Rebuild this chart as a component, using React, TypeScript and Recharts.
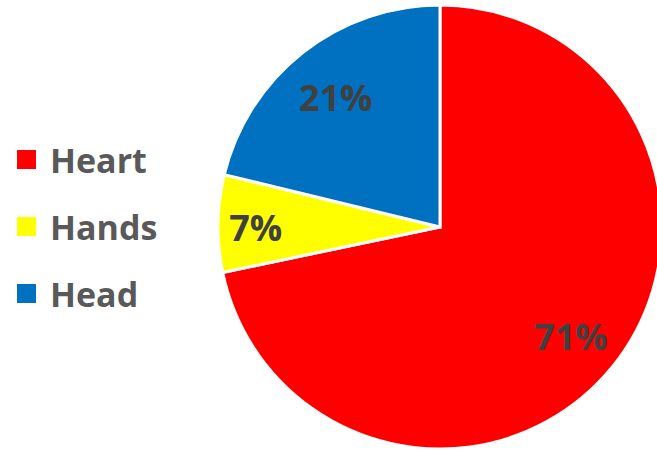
import { Cell, Legend, Pie, PieChart } from "recharts";

const categories = ["Heart", "Hands", "Head"];
const shares = [71, 7, 21];
const colors = ["#FF0000", "#FFFF00", "#0070C0"];

const data = categories.map((name, i) => ({ name, value: shares[i] }));

const RADIAN = Math.PI / 180;

const renderLabel = (props: any) => {
  const { cx, cy, midAngle, outerRadius, value, percent } = props;
  const k = percent < 0.1 ? 0.83 : 0.76;
  const r = outerRadius * k;
  const x = cx + r * Math.cos(-midAngle * RADIAN);
  const y = cy + r * Math.sin(-midAngle * RADIAN) + 3;
  return (
    <text
      x={x}
      y={y}
      fill="#404040"
      textAnchor="middle"
      dominantBaseline="central"
      fontSize={36}
      fontWeight={700}
      fontFamily="'Open Sans', sans-serif"
    >
      {`${value}%`}
    </text>
  );
};

const renderLegend = () => (
  <div style={{ fontFamily: "'Open Sans', sans-serif" }}>
    {categories.map((name, i) => (
      <div key={name} style={{ display: "flex", alignItems: "center", height: 67 }}>
        <span
          style={{ width: 19, height: 19, background: colors[i], display: "inline-block", marginRight: 14 }}
        />
        <span style={{ fontSize: 34, fontWeight: 700, color: "#595959", lineHeight: 1 }}>{name}</span>
      </div>
    ))}
  </div>
);

export default function App() {
  return (
    <div style={{ position: "absolute", left: 0, top: 0, background: "#fff" }}>
      <PieChart width={657} height={451} margin={{ top: 0, right: 0, bottom: 0, left: 0 }}>
        <Pie
          data={data}
          dataKey="value"
          nameKey="name"
          cx={440}
          cy={227}
          outerRadius={222}
          startAngle={90}
          endAngle={-270}
          stroke="#fff"
          strokeWidth={3}
          label={renderLabel}
          labelLine={false}
          isAnimationActive={false}
        >
          {data.map((d, i) => (
            <Cell key={d.name} fill={colors[i]} />
          ))}
        </Pie>
        <Legend
          layout="vertical"
          content={renderLegend}
          wrapperStyle={{ left: 17, top: 126, width: 200 }}
        />
      </PieChart>
    </div>
  );
}
